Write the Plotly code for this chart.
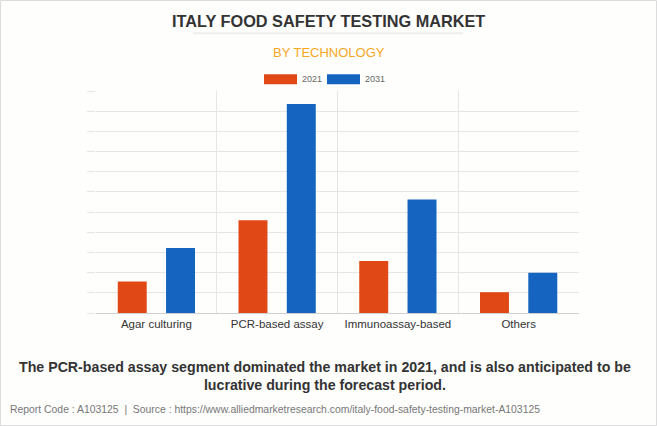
import plotly.graph_objects as go

categories = ["Agar culturing", "PCR-based assay", "Immunoassay-based", "Others"]
years = ["2021", "2031"]
values_2021 = [1.56, 4.59, 2.58, 1.03]
values_2031 = [3.22, 10.36, 5.63, 2.0]
colors = ["#e04916", "#1565c0"]

W, H = 657, 426
L, R, T, B = 96, 78, 91, 113
pw, ph = W - L - R, H - T - B


def px(x):
    return (x - L) / pw


def py(y):
    return (H - B - y) / ph


fig = go.Figure()
for name, vals, col in zip(years, [values_2021, values_2031], colors):
    fig.add_trace(go.Bar(x=categories, y=vals, name=name, marker_color=col,
                         marker_line_width=0, showlegend=False))

font_main = "Liberation Sans, Arial, sans-serif"
shapes = [
    # outer border
    dict(type="rect", xref="paper", yref="paper", x0=px(0.5), x1=px(656.5),
         y0=py(425.5), y1=py(0.5), line=dict(color="#dcdcdc", width=1), layer="below"),
    # title underline
    dict(type="line", xref="paper", yref="paper", x0=px(193), x1=px(463),
         y0=py(33.3), y1=py(33.3), line=dict(color="#eeeeee", width=2)),
]
annotations = [
    dict(text="<b>ITALY FOOD SAFETY TESTING MARKET</b>", x=px(328.5), y=py(20.5),
         xref="paper", yref="paper", showarrow=False, xanchor="center", yanchor="middle",
         font=dict(family=font_main, size=16.3, color="#333333")),
    dict(text="BY TECHNOLOGY", x=px(328.5), y=py(52), xref="paper", yref="paper",
         showarrow=False, xanchor="center", yanchor="middle",
         font=dict(family=font_main, size=13, color="#f5a623")),
    dict(text="<b>The PCR-based assay segment dominated the market in 2021, and is also anticipated to be<br>lucrative during the forecast period.</b>",
         x=px(325), y=py(376), xref="paper", yref="paper", showarrow=False,
         xanchor="center", yanchor="middle", align="center",
         font=dict(family=font_main, size=14.2, color="#333333")),
    dict(text="Report Code : A103125  |  Source : https://www.alliedmarketresearch.com/italy-food-safety-testing-market-A103125",
         x=px(8), y=py(409), xref="paper", yref="paper", showarrow=False,
         xanchor="left", yanchor="middle",
         font=dict(family=font_main, size=10.4, color="#777777")),
]
# legend swatches
legend_items = [(264, 297, 300), (327, 360, 363)]
for (x0, x1, tx), name, col in zip(legend_items, years, colors):
    shapes.append(dict(type="rect", xref="paper", yref="paper", x0=px(x0), x1=px(x1),
                       y0=py(84.3), y1=py(74.3), fillcolor=col, line=dict(width=0)))
    annotations.append(dict(text=name, x=px(tx), y=py(79.3), xref="paper", yref="paper",
                            showarrow=False, xanchor="left", yanchor="middle",
                            font=dict(family=font_main, size=9, color="#666666")))

fig.update_layout(
    width=W, height=H,
    margin=dict(l=L, r=R, t=T, b=B, pad=0),
    paper_bgcolor="#fefefd", plot_bgcolor="#fefefd",
    barmode="group", bargap=0.2, bargroupgap=0.4,
    shapes=shapes, annotations=annotations,
    xaxis=dict(type="category", tickson="boundaries", showgrid=True, gridcolor="#e6e6e6",
               gridwidth=1, showline=True, linecolor="#d0d0d0", linewidth=1, ticks="",
               range=[-0.5, 3.5],
               tickfont=dict(family=font_main, size=11.5, color="#333333")),
    yaxis=dict(range=[0, 11], dtick=1, showticklabels=False, showgrid=True,
               gridcolor="#e6e6e6", gridwidth=1, zeroline=False, ticks="outside",
               ticklen=8, tickcolor="#e6e6e6", showline=False),
)

fig.write_html("out.html", config={"displayModeBar": False},
               post_script="document.body.style.margin='0';document.body.style.padding='0';document.body.style.overflow='hidden';")
